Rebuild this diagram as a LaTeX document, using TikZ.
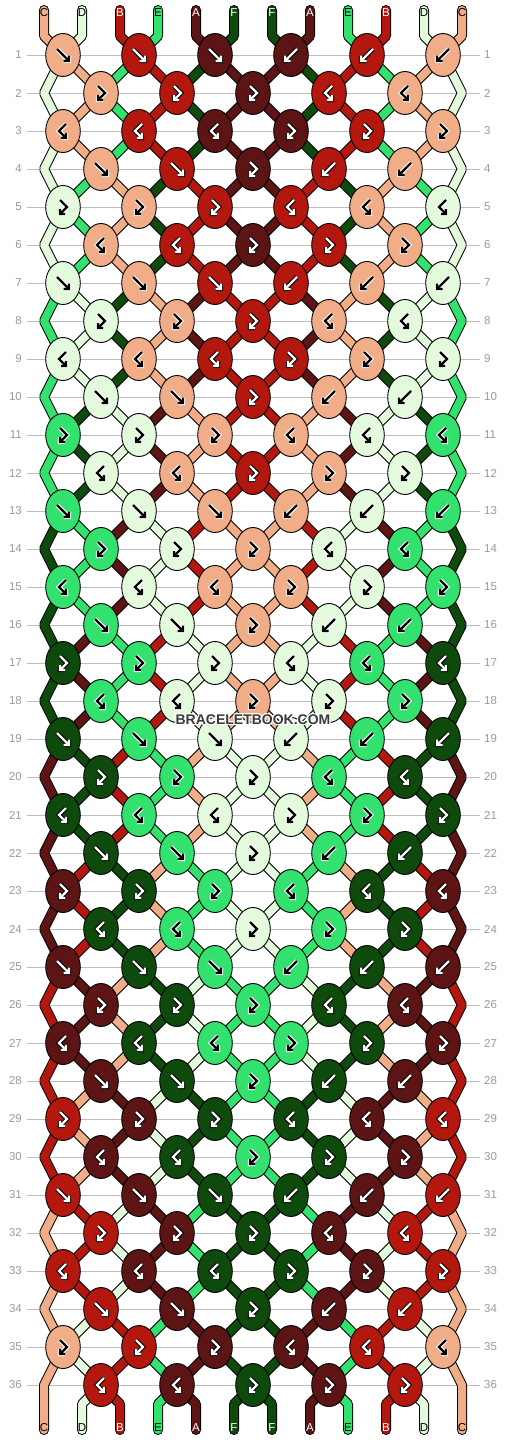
\documentclass[tikz,border=0pt]{standalone}
\usepackage{fontspec}
\setmainfont{Liberation Sans}
\usetikzlibrary{shapes.geometric}
\pgfdeclarelayer{back}
\pgfdeclarelayer{tubes}
\pgfsetlayers{back,tubes,main}
\definecolor{colA}{HTML}{5C1414}
\definecolor{colB}{HTML}{B3170D}
\definecolor{colC}{HTML}{F0AD87}
\definecolor{colD}{HTML}{E3FBDC}
\definecolor{colE}{HTML}{33E16F}
\definecolor{colF}{HTML}{0E4A0B}
\definecolor{gridgray}{HTML}{BDBDBD}
\definecolor{labgray}{HTML}{9A9A9A}
\definecolor{wmark}{HTML}{3A3A3A}
\def\fgA{white}\def\fgB{white}\def\fgC{black}\def\fgD{black}\def\fgE{black}\def\fgF{white}
\def\olA{black}\def\olB{black}\def\olC{white}\def\olD{white}\def\olE{white}\def\olF{black}
\newcommand\deftypes[2]{\foreach[count=\ki] \kv in {#2}{\expandafter\xdef\csname ty#1-\ki\endcsname{\kv}}}
\deftypes{0}{1,1,1,2,2,2}
\deftypes{1}{3,3,3,4,4}
\deftypes{2}{4,4,4,3,3,3}
\deftypes{3}{1,1,3,2,2}
\deftypes{4}{3,3,3,4,4,4}
\deftypes{5}{4,4,3,3,3}
\tikzset{
  knotnode/.style={ellipse,draw=black,line width=0.9pt,minimum width=34.6pt,minimum height=43pt,inner sep=0pt,outer sep=0pt},
  strlab/.style={font=\fontsize{11.5}{11.5}\selectfont,inner sep=0pt},
  rowlab/.style={font=\fontsize{11.5}{11.5}\selectfont,text=labgray,inner sep=0pt},
  gridline/.style={gridgray,line width=1pt},
  glyphol/.style={line width=4.4pt,line cap=square,line join=miter},
  glyphfg/.style={line width=2.4pt,line cap=square,line join=miter},
  wm/.style={font=\bfseries\fontsize{14}{14}\selectfont,inner sep=0pt}
}
\newcommand\tubepath[3][]{\draw[line width=10pt,black,#1] #3;\draw[line width=8pt,color=col#2,#1] #3;}
\newcommand\glyphdraw[3]{\draw[glyphol,color=#2] #3;\draw[glyphfg,color=#1] #3;}
\newcommand\kglyph[3]{\ifcase#1\or
  \glyphdraw{#2}{#3}{(-6,-6) -- (6,6) (0.5,6) -- (6,6) -- (6,0.5)}\or
  \glyphdraw{#2}{#3}{(6,-6) -- (-6,6) (-0.5,6) -- (-6,6) -- (-6,0.5)}\or
  \glyphdraw{#2}{#3}{(-3,-7) -- (4,0) -- (-3,7) (-3,2) -- (-3,7) -- (2,7)}\or
  \glyphdraw{#2}{#3}{(3,-7) -- (-4,0) -- (3,7) (3,2) -- (3,7) -- (-2,7)}\fi}
\begin{document}
\begin{tikzpicture}[x=1pt,y=-1pt]
\useasboundingbox (0,0) rectangle (506,1440);
\begin{pgfonlayer}{back}
\fill[white] (0,0) rectangle (506,1440);
\end{pgfonlayer}
% rows: grid, labels, edge points
\foreach \rr in {1,...,36}{
  \pgfmathsetmacro\ky{17+38*\rr}
  \begin{pgfonlayer}{back}
  \draw[gridline] (27,\ky) -- (480,\ky);
  \end{pgfonlayer}
  \node[rowlab,anchor=east] (rl-\rr) at (22,\ky) {\rr};
  \node[rowlab,anchor=west] (rr-\rr) at (484,\ky) {\rr};
  \coordinate (eL-\rr) at (44,\ky);
  \coordinate (eR-\rr) at (462,\ky);
}
% string ends
\foreach \pp in {1,...,12}{
  \pgfmathsetmacro\xa{6+38*\pp}
  \coordinate (tA-\pp) at (\xa,10);
  \coordinate (tB-\pp) at (\xa,36);
  \coordinate (bA-\pp) at (\xa,1404);
  \coordinate (bB-\pp) at (\xa,1430);
}
% initial state
\foreach[count=\ii] \sv in {C,D,B,E,A,F,F,A,E,B,D,C}{
  \expandafter\xdef\csname st\ii\endcsname{\sv}
  \expandafter\xdef\csname sc-0-\ii\endcsname{\sv}
}
% knots
\foreach \rr in {1,...,36}{
  \pgfmathtruncatemacro\km{mod(\rr-1,6)}
  \pgfmathtruncatemacro\kodd{mod(\rr,2)}
  \pgfmathsetmacro\ky{17+38*\rr}
  \ifnum\kodd=1 \def\nk{6}\else\def\nk{5}\fi
  \foreach \kk in {1,...,\nk}{
    \pgfmathtruncatemacro\kp{2*\kk-\kodd}
    \pgfmathtruncatemacro\kq{\kp+1}
    \edef\kL{\csname st\kp\endcsname}
    \edef\kR{\csname st\kq\endcsname}
    \edef\kt{\csname ty\km-\kk\endcsname}
    \ifodd\kt\relax\edef\kc{\kL}\else\edef\kc{\kR}\fi
    \ifnum\kt<3\relax
      \expandafter\xdef\csname st\kp\endcsname{\kR}%
      \expandafter\xdef\csname st\kq\endcsname{\kL}%
    \fi
    \pgfmathsetmacro\kx{25+38*\kp}
    \edef\gfg{\csname fg\kc\endcsname}
    \edef\gol{\csname ol\kc\endcsname}
    \node[knotnode,fill=col\kc] (k-\rr-\kk) at (\kx,\ky) {};
    \begin{scope}[shift={(\kx,\ky)}]
      \kglyph{\kt}{\gfg}{\gol}
    \end{scope}
  }
  \foreach \pp in {1,...,12}{
    \expandafter\xdef\csname sc-\rr-\pp\endcsname{\csname st\pp\endcsname}
  }
}
% strings
\begin{pgfonlayer}{tubes}
\foreach \pp in {1,...,12}{
  \edef\cc{\csname sc-0-\pp\endcsname}
  \pgfmathtruncatemacro\ka{(\pp+1)/2}
  \tubepath[line cap=round,line join=round]{\cc}{(tA-\pp) -- (tB-\pp) -- (k-1-\ka.center)}
}
\foreach \rr in {1,...,35}{
  \pgfmathtruncatemacro\rn{\rr+1}
  \pgfmathtruncatemacro\rnn{\rr+2}
  \pgfmathtruncatemacro\kodd{mod(\rr,2)}
  \foreach \pp in {2,...,11}{
    \edef\cc{\csname sc-\rr-\pp\endcsname}
    \ifnum\kodd=1
      \pgfmathtruncatemacro\ka{(\pp+1)/2}\pgfmathtruncatemacro\kb{\pp/2}
    \else
      \pgfmathtruncatemacro\ka{\pp/2}\pgfmathtruncatemacro\kb{(\pp+1)/2}
    \fi
    \tubepath{\cc}{(k-\rr-\ka.center) -- (k-\rn-\kb.center)}
  }
  \ifnum\kodd=1
    \edef\cLft{\csname sc-\rr-1\endcsname}
    \edef\cRgt{\csname sc-\rr-12\endcsname}
    \ifnum\rr<35
      \tubepath[line join=bevel]{\cLft}{(k-\rr-1.center) -- (eL-\rn) -- (k-\rnn-1.center)}
      \tubepath[line join=bevel]{\cRgt}{(k-\rr-6.center) -- (eR-\rn) -- (k-\rnn-6.center)}
    \else
      \tubepath[line join=bevel,line cap=round]{\cLft}{(k-\rr-1.center) -- (eL-\rn) -- (bB-1)}
      \tubepath[line join=bevel,line cap=round]{\cRgt}{(k-\rr-6.center) -- (eR-\rn) -- (bB-12)}
    \fi
  \fi
}
\foreach \pp in {2,...,11}{
  \edef\cc{\csname sc-36-\pp\endcsname}
  \pgfmathtruncatemacro\ka{\pp/2}
  \tubepath[line cap=round,line join=round]{\cc}{(k-36-\ka.center) -- (bA-\pp) -- (bB-\pp)}
}
\end{pgfonlayer}
% string labels
\foreach \pp in {1,...,12}{
  \pgfmathsetmacro\xa{6+38*\pp}
  \edef\cc{\csname sc-0-\pp\endcsname}
  \edef\tc{\csname fg\cc\endcsname}
  \node[strlab,text=\tc] (lt-\pp) at (\xa,13) {\cc};
  \edef\cc{\csname sc-36-\pp\endcsname}
  \edef\tc{\csname fg\cc\endcsname}
  \node[strlab,text=\tc] (lb-\pp) at (\xa,1428) {\cc};
}
% watermark
\foreach[count=\wi] \dx/\dy in {-1/-1,0/-1,1/-1,-1/0,1/0,-1/1,0/1,1/1}{
  \node[wm,text=white] (wh-\wi) at (253+\dx,720+\dy) {BRACELETBOOK.COM};
}
\node[wm,text=wmark] (wm) at (253,720) {BRACELETBOOK.COM};
\end{tikzpicture}
\end{document}
